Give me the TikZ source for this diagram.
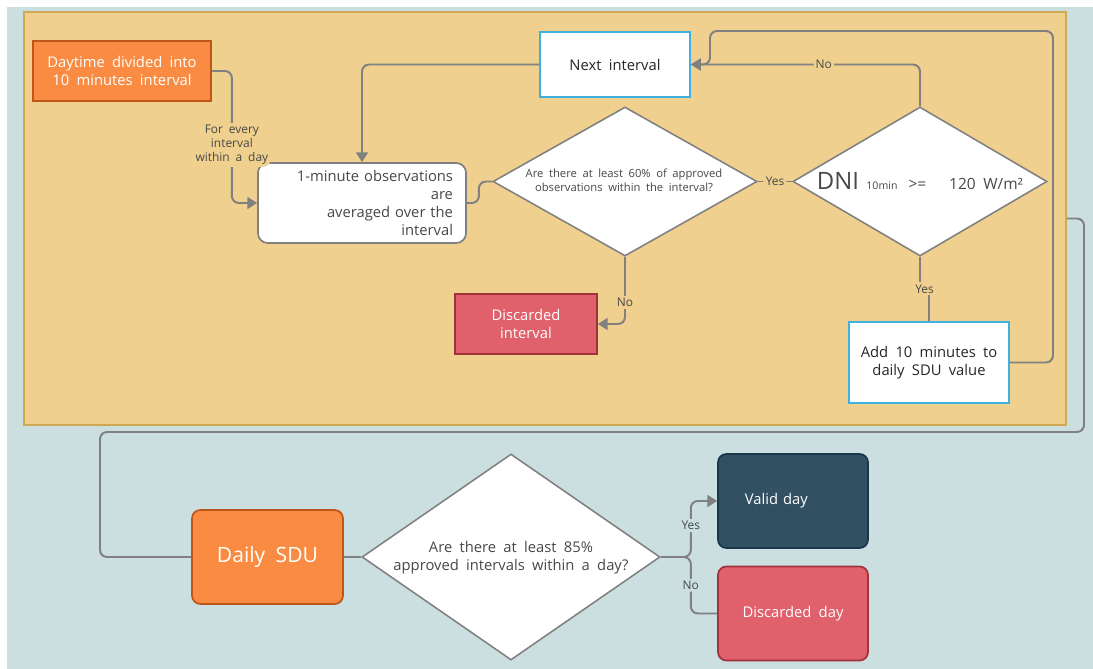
\documentclass[tikz,border=0pt]{standalone}
\usepackage{fontspec}
\setmainfont{Open Sans}[WordSpace=1.9]
\usetikzlibrary{arrows.meta, shapes.geometric, positioning, calc}
\definecolor{sdubg}        {RGB}{203, 223, 225}
\definecolor{sdupanel}     {RGB}{239, 208, 142}
\definecolor{sdupanelrim}  {RGB}{208, 168,  82}
\definecolor{sduorange}    {RGB}{249, 139,  66}
\definecolor{sduorangerim} {RGB}{190,  85,  25}
\definecolor{sdured}       {RGB}{224,  96, 108}
\definecolor{sduredrim}    {RGB}{160,  50,  60}
\definecolor{sdudark}      {RGB}{ 49,  80,  98}
\definecolor{sdudarkrim}   {RGB}{ 25,  55,  75}
\definecolor{sdusky}       {RGB}{ 64, 176, 224}
\definecolor{sduline}      {RGB}{128, 128, 128}
\definecolor{sdutext}      {RGB}{ 72,  72,  72}
\tikzset{
	conn/.style={sduline, line width=1.4pt, rounded corners=5pt},
	arr/.style={conn, -{Triangle[length=7pt,width=8.5pt]}},
	lbl/.style={fill=sdupanel, inner sep=1.5pt, font=\fontsize{8.5}{10}\selectfont, text=sdutext, align=center},
	lblout/.style={lbl, fill=sdubg},
	ask/.style={diamond, draw=sduline, fill=white, line width=1.1pt, inner sep=0pt},
	asktext/.style={font=\fontsize{8}{10}\selectfont, text=sdutext, align=center, inner sep=0pt},
	startbox/.style={draw=sduorangerim, fill=sduorange, line width=1.2pt, text=white, align=center, inner sep=0pt},
	whitebox/.style={draw=sdusky, fill=white, line width=1.4pt, text=black!85, align=center, inner sep=0pt},
	dropbox/.style={draw=sduredrim, fill=sdured, line width=1.2pt, text=white, align=center, inner sep=0pt}
}

\begin{document}
\begin{tikzpicture}[x=0.025cm, y=-0.025cm]
	\useasboundingbox (0,0) rectangle (1093,669);
	\fill[white] (0,0) rectangle (1093,669);
	\fill[sdubg] (7,7) rectangle (1093,669);

	% upper panel: one interval
	\node[draw=sdupanelrim, fill=sdupanel, line width=1.2pt, inner sep=0pt,
		minimum width=26.05cm, minimum height=10.325cm] (panel) at (545,218.5) {};

	\node[startbox, minimum width=4.45cm, minimum height=1.5cm, font=\fontsize{10.5}{13}\selectfont]
		(day10) at (122,71) {Daytime divided into\\10 minutes interval};
	\node[draw=sduline, fill=white, line width=1.2pt, rounded corners=7pt, inner sep=0pt,
		minimum width=5.2cm, minimum height=2cm, text width=4.55cm, align=right, text=sdutext,
		font=\fontsize{10.5}{12.6}\selectfont]
		(avg) at (362,203) {1-minute observations\\are\\averaged over the\\interval};
	\node[ask, minimum width=6.6cm, minimum height=3.725cm] (chk60) at (625,181.5) {};
	\node[asktext] (chk60txt) at (624,180) {Are there at least 60\% of approved\\observations within the interval?};
	\node[ask, minimum width=6.35cm, minimum height=3.725cm] (dni) at (920,181.5) {};
	\node[asktext, text=sdutext] (dnitxt) at (920,181)
		{{\fontsize{17}{19}\selectfont DNI}\ \,{\fontsize{7.5}{8}\selectfont 10min}\ \ {\fontsize{11}{13}\selectfont >=\ \ \ 120\ W/m²}};
	\node[whitebox, minimum width=3.75cm, minimum height=1.625cm, font=\fontsize{10.5}{13}\selectfont]
		(nxt) at (615,64.5) {Next interval};
	\node[dropbox, minimum width=3.55cm, minimum height=1.5cm, font=\fontsize{10.5}{13}\selectfont]
		(drop) at (526,324) {Discarded\\interval};
	\node[whitebox, minimum width=4cm, minimum height=2.025cm, font=\fontsize{10.5}{13}\selectfont]
		(addten) at (929,362.5) {Add 10 minutes to\\daily SDU value};

	\coordinate (loopR) at (1053,31);
	\coordinate (loopL) at (710,31);

	\draw[arr] (day10.east) -- ++(20,0) |- node[lbl,pos=0.28] {For every\\interval\\within a day} (avg.west);
	\draw[conn] (avg.east) -- ++(12,0) |- (chk60.west);
	\draw[conn] (chk60.east) -- node[lbl] {Yes} (dni.west);
	\draw[arr] (chk60.south) |- node[lbl,pos=0.34] {No} (drop.east);
	\draw[arr] (dni.north) |- node[lbl,pos=0.71] {No} (nxt.east);
	\draw[arr] (addten.east) -| (loopR) -- (loopL) |- (nxt.east);
	\draw[arr] (nxt.west) -| (avg.north);
	\coordinate (yesmid) at ($(dni.south)!0.5!(addten.north)$);
	\draw[conn, sharp corners] (dni.south) |- (yesmid) -| (addten.north);
	\node[lbl] (yeslbl) at (yesmid) {Yes};

	% lower part: whole day
	\node[startbox, rounded corners=6pt, minimum width=3.775cm, minimum height=2.35cm,
		font=\fontsize{15}{18}\selectfont] (daily) at (267.5,557) {Daily SDU};
	\node[ask, minimum width=7.45cm, minimum height=5.15cm] (chk85) at (511,557) {};
	\node[asktext, font=\fontsize{10.5}{13}\selectfont] (chk85txt) at (511,558)
		{Are there at least 85\%\\approved intervals within a day?};
	\node[draw=sdudarkrim, fill=sdudark, line width=1.2pt, rounded corners=6pt, inner sep=0pt,
		minimum width=3.75cm, minimum height=2.35cm, text width=2.4cm, align=left, text=white,
		font=\fontsize{10.5}{13}\selectfont] (valid) at (793,501) {Valid day};
	\node[dropbox, rounded corners=6pt, minimum width=3.75cm, minimum height=2.35cm,
		font=\fontsize{10.5}{13}\selectfont] (lost) at (793,613.5) {Discarded day};

	\coordinate (outR) at (1084,432);
	\coordinate (outL) at (100,432);
	\draw[conn] (panel.east) -| (outR) -- (outL) |- (daily.west);
	\draw[conn] (daily.east) -- (chk85.west);
	\draw[arr] (chk85.east) -- ++(30,0) |- node[lblout,pos=0.28] {Yes} (valid.west);
	\draw[conn] (chk85.east) -- ++(30,0) |- node[lblout,pos=0.25] {No} (lost.west);
\end{tikzpicture}
\end{document}
